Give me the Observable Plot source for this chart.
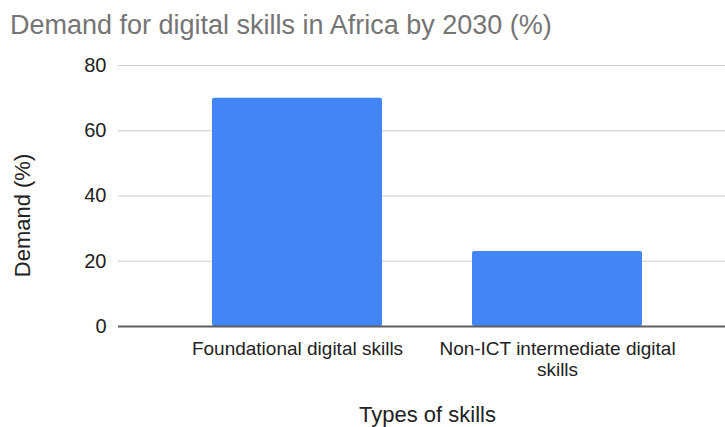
<!DOCTYPE html>
<html>
<head>
<meta charset="utf-8">
<script src="https://cdn.jsdelivr.net/npm/d3@7"></script>
<script src="https://cdn.jsdelivr.net/npm/@observablehq/plot@0.6"></script>
<style>
  html, body { margin: 0; padding: 0; background: #fff; }
  body { width: 725px; height: 427px; overflow: hidden; font-family: "Liberation Sans", Arial, sans-serif; }
  #title { font-size: 27px; line-height: 30px; color: #757575; padding: 10px 0 8px 10px; height: 30px; white-space: nowrap; }
  #chart svg { overflow: visible; display: block; }
</style>
</head>
<body>
<div id="title">Demand for digital skills in Africa by 2030 (%)</div>
<div id="chart"></div>
<script>
const categories = ["Foundational digital skills", "Non-ICT intermediate digital skills"];
const values = [70, 23];
const tickLabels = ["Foundational digital skills", "Non-ICT intermediate digital\nskills"];
const yTicks = [0, 20, 40, 60, 80];
const xTitle = "Types of skills";
const yTitle = "Demand (%)";

const data = categories.map((c, i) => ({skill: c, demand: values[i]}));

const chart = Plot.plot({
  width: 725,
  height: 379,
  marginLeft: 118,
  marginRight: -11,
  marginTop: 17,
  marginBottom: 101,
  style: {fontFamily: '"Liberation Sans", Arial, sans-serif', background: "white", overflow: "visible"},
  x: {domain: categories, paddingInner: 0.346, paddingOuter: 0.36, label: null},
  y: {domain: [0, 80], ticks: yTicks, label: null},
  marks: [
    Plot.ruleY(yTicks.filter(d => d > 0), {stroke: "#cccccc", strokeWidth: 1}),
    Plot.barY(data, {x: "skill", y: "demand", fill: "#4285f4", rx: 2}),
    Plot.ruleY([0], {stroke: "#5f5f5f", strokeWidth: 2}),
    Plot.axisY({ticks: yTicks, tickSize: 0, tickPadding: 12, fontSize: 20, fill: "#222", label: null}),
    Plot.axisX({tickSize: 0, tickPadding: 14, fontSize: 19, lineHeight: 1.1, fill: "#222", label: null,
      tickFormat: d => tickLabels[categories.indexOf(d)]}),
    Plot.text([xTitle], {text: d => d, frameAnchor: "bottom", lineAnchor: "middle", textAnchor: "middle", dy: 88.5, fontSize: 22, fill: "#222"}),
    Plot.text([yTitle], {text: d => d, frameAnchor: "left", lineAnchor: "middle", textAnchor: "middle", dx: -96, dy: 19.5, rotate: -90, fontSize: 22, fill: "#222"})
  ]
});
document.getElementById("chart").appendChild(chart);
</script>
</body>
</html>
